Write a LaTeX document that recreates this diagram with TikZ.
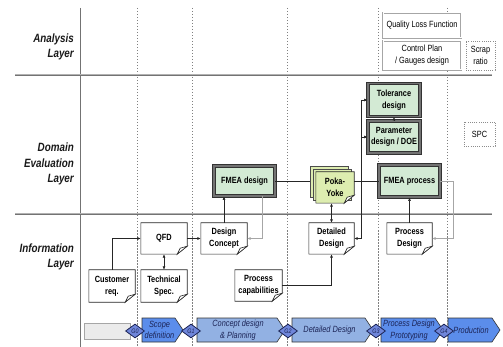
\documentclass[tikz,border=0pt]{standalone}
\usepackage{fontspec}
\setmainfont{Liberation Sans}[FakeStretch=0.82]
\usetikzlibrary{arrows.meta,calc,shapes.geometric}
\definecolor{boxgreen}{HTML}{D3EAD4}
\definecolor{pokafill}{HTML}{DDEDB0}
\definecolor{phasebright}{HTML}{5B8DEB}
\definecolor{phaselight}{HTML}{92B1E3}
\definecolor{gatefill}{HTML}{6F86DA}
\definecolor{navy}{HTML}{1C2456}
\pgfdeclarelayer{background}
\pgfsetlayers{background,main}

% outline of a document sheet with a folded lower right corner
\newcommand\docframe[2][white]{%
  \begin{pgfonlayer}{background}
  \draw[docline,fill=#1] (#2.north west) -- (#2.north east) -- ([yshift=8pt]#2.south east)
     -- ([xshift=-10pt]#2.south east) -- (#2.south west) -- cycle;
  \draw[docline,fill=white] ([yshift=8pt]#2.south east) -- ([xshift=-7pt,yshift=6pt]#2.south east)
     -- ([xshift=-10pt]#2.south east) -- cycle;
  \end{pgfonlayer}}

% a phase of the development process, drawn as an arrow-shaped band
\newcommand\phasebox[5]{%
  \begin{pgfonlayer}{background}
  \draw[phaseline,fill=#4] (#2,318) -- (#3-8,318) -- (#3,330) -- (#3-8,342) -- (#2,342) -- cycle;
  \end{pgfonlayer}
  \node[phasetext] (#1) at ({(#2+#3-6)/2},330) {#5};}

\begin{document}
\begin{tikzpicture}[x=1pt,y=-1pt,
  layerlabel/.style={font=\bfseries\itshape\fontsize{12}{15.5}\selectfont,align=right,anchor=east,text=black!90,inner sep=0pt},
  layerline/.style={draw=black!55,line width=0.5pt,double=black!30,double distance=1pt},
  gridline/.style={draw=black!50,line width=0.55pt,dash pattern=on 1.5pt off 1.5pt},
  evalbox/.style={draw=black!80,line width=0.9pt,double=black!55,double distance=1.4pt,fill=boxgreen,
    font=\bfseries\fontsize{9}{11.5}\selectfont,align=center,inner sep=0pt},
  doc/.style={inner sep=0pt,font=\bfseries\fontsize{9}{12}\selectfont,align=center,minimum width=46pt,minimum height=31pt},
  docline/.style={draw=black!85,line width=0.6pt},
  toolbox/.style={draw=black!35,line width=0.5pt,double=white,double distance=1pt,fill=white,
    font=\fontsize{9}{12}\selectfont,align=center,inner sep=0pt},
  metric/.style={draw=black!45,line width=0.7pt,dash pattern=on 1pt off 1.2pt,
    font=\fontsize{9}{12}\selectfont,align=center,inner sep=0pt},
  link/.style={draw=black!85,line width=0.6pt},
  arr/.style={-{Latex[length=3.5pt,width=3pt]}},
  dblarr/.style={{Latex[length=3.5pt,width=3pt]}-{Latex[length=3.5pt,width=3pt]}},
  feedback/.style={draw=black!35,line width=0.6pt,-{Latex[length=3.5pt,width=3pt]}},
  phaseline/.style={draw=black!80,line width=0.6pt},
  phasetext/.style={font=\itshape\fontsize{9}{11.5}\selectfont,text=navy,align=center,inner sep=0pt},
  gate/.style={diamond,draw=navy,line width=0.8pt,fill=gatefill,inner sep=0pt,minimum width=19pt,
    minimum height=14pt,font=\itshape\fontsize{6.5}{6.5}\selectfont,text=navy}]
\useasboundingbox (0,0) rectangle (503,347);

% grid of phases and layers
\draw[black!55,line width=0.6pt] (80,8) -- (80,347);
\foreach \gx in {137,192,287,378,447} \draw[gridline] (\gx,8) -- (\gx,347);
\draw[layerline] (15,75) -- (492,75);
\draw[layerline] (15,214) -- (492,214);

\node[layerlabel] (lanalysis) at (74,47) {Analysis\\Layer};
\node[layerlabel] (ldomain) at (74,164) {Domain\\Evaluation\\Layer};
\node[layerlabel] (linfo) at (74,257) {Information\\Layer};

% analysis layer
\node[toolbox,minimum width=78pt,minimum height=25pt] (qlf) at (422,25.5) {Quality Loss Function};
\node[toolbox,minimum width=78pt,minimum height=29pt] (cplan) at (422,55.5) {Control Plan\\/ Gauges design};
\node[metric,minimum width=29pt,minimum height=29pt] (scrap) at (480.5,55.5) {Scrap\\ratio};

% domain evaluation layer
\node[evalbox,minimum width=52pt,minimum height=33pt] (tol) at (394,100) {Tolerance\\design};
\node[evalbox,minimum width=52pt,minimum height=32pt] (param) at (394,137) {Parameter\\design / DOE};
\node[evalbox,minimum width=61pt,minimum height=30pt] (fmead) at (244.5,181) {FMEA design};
\node[evalbox,minimum width=61pt,minimum height=32pt] (fmeap) at (409.5,181) {FMEA process};
\node[metric,minimum width=31pt,minimum height=24pt] (spc) at (479.5,134) {SPC};

\begin{pgfonlayer}{background}
\node[draw=black!70,line width=0.6pt,fill=pokafill,minimum width=38pt,minimum height=31pt] (poka3) at (329,181.5) {};
\node[draw=black!70,line width=0.6pt,fill=pokafill,minimum width=38pt,minimum height=31pt] (poka2) at (332,184.5) {};
\end{pgfonlayer}
\node[doc,minimum width=38pt,minimum height=31pt] (poka) at (335,187.5) {Poka-\\Yoke};
\docframe[pokafill]{poka}

% information layer
\node[doc] (qfd) at (164,238.5) {QFD};
\node[doc] (concept) at (224,238.5) {Design\\Concept};
\node[doc,minimum height=32pt] (cust) at (112,286) {Customer\\req.};
\node[doc,minimum height=32pt] (tech) at (164,286) {Technical\\Spec.};
\node[doc,minimum width=47pt] (proccap) at (258.5,285.5) {Process\\capabilities};
\node[doc,minimum width=45pt] (detailed) at (331.5,238.5) {Detailed\\Design};
\node[doc,minimum width=45pt] (procdes) at (409.5,238.5) {Process\\Design};
\foreach \d in {qfd,concept,cust,tech,proccap,detailed,procdes} {\docframe{\d}}

% connectors
\draw[link,arr] (cust.north) |- (qfd.west);
\draw[link,dblarr] (qfd.south) -- (tech.north);
\draw[link,arr] (qfd.east) -- (concept.west);
\draw[link,arr] (concept.north) -- (concept.north |- fmead.south);
\draw[feedback] ([xshift=17.5pt]fmead.south) |- (concept.east);
\draw[link] (fmead.east) -- (fmead.east -| poka3.west);
\draw[link] (poka.east |- fmeap.west) -- (fmeap.west);
\draw[link,dblarr] (detailed.north) -- (detailed.north |- poka.south);
\coordinate (bus) at (361,100);
\draw[link,arr] (bus) -- (tol.west);
\draw[link,arr] (bus |- param.west) -- (param.west);
\draw[link,arr] (bus) |- (detailed.east);
\draw[link,arr] (param.north) -- (tol.south);
\draw[link,arr] (proccap.east) -| (detailed.south);
\draw[link,arr] (procdes.north) -- (fmeap.south);
\draw[feedback] (fmeap.east) -- ++(13,0) |- (procdes.east);

% process phases and gates
\node[draw=black!35,line width=0.6pt,fill=black!8,minimum width=46pt,minimum height=16pt,inner sep=0pt] (pre) at (107.5,331) {};
\phasebox{scope}{142}{183}{phasebright}{Scope\\definition}
\phasebox{cdesign}{197}{285}{phaselight}{Concept design\\\& Planning}
\phasebox{ddesign}{292}{373}{phaselight}{Detailed Design}
\phasebox{proto}{381}{443}{phasebright}{Process Design\\Prototyping}
\phasebox{prod}{448}{500}{phasebright}{Production}
\node[gate] (g0) at (135,331) {G0};
\node[gate] (g1) at (191,331) {G1};
\node[gate] (g2) at (288,331) {G2};
\node[gate] (g3) at (376,331) {G3};
\node[gate] (g4) at (444,331) {G4};
\end{tikzpicture}
\end{document}
